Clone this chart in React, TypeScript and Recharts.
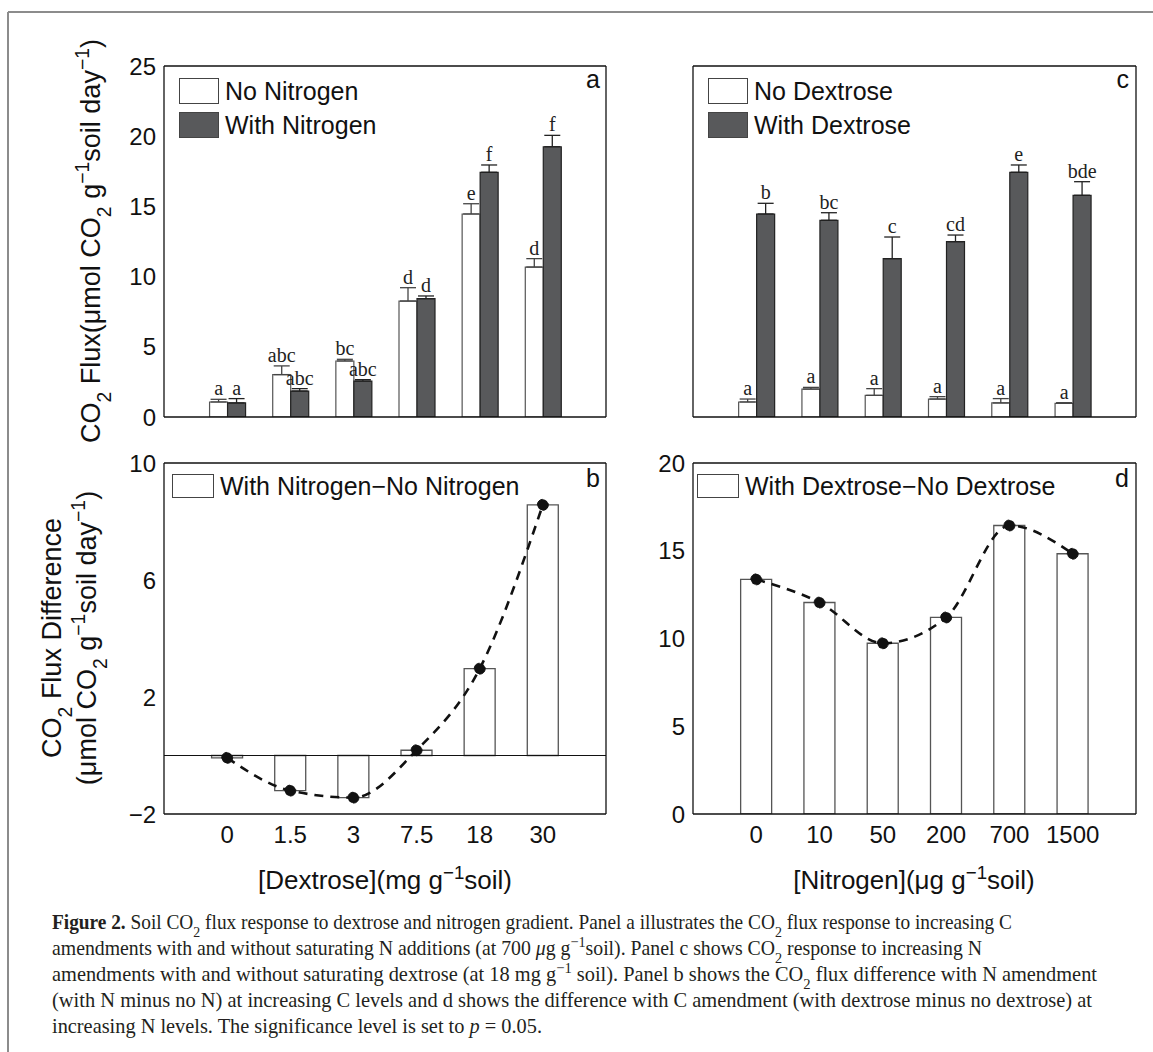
import React from "react";
import {
  ComposedChart,
  Bar,
  Line,
  XAxis,
  YAxis,
  ErrorBar,
  LabelList,
  Legend,
  ReferenceLine,
} from "recharts";

const W = 1153;
const H = 1052;
const SANS = "'Liberation Sans', Arial, Helvetica, sans-serif";
const SERIF = "'Liberation Serif', 'Times New Roman', serif";
const INK = "#111";
const DARK = "#58595b";

// #region Data
const dextroseLevels = ["0", "1.5", "3", "7.5", "18", "30"];
const nitrogenLevels = ["0", "10", "50", "200", "700", "1500"];
const slots = [0, 1, 2, 3, 4, 5];

// panel a: flux vs dextrose
const noNitrogenFlux = [1.07, 3.02, 3.99, 8.26, 14.46, 10.68];
const noNitrogenSE = [0.19, 0.62, 0.12, 0.95, 0.73, 0.6];
const noNitrogenGroup = ["a", "abc", "bc", "d", "e", "d"];
const withNitrogenFlux = [1.0, 1.85, 2.56, 8.43, 17.43, 19.25];
const withNitrogenSE = [0.31, 0.17, 0.1, 0.19, 0.52, 0.81];
const withNitrogenGroup = ["a", "abc", "abc", "d", "f", "f"];

// panel c: flux vs nitrogen
const noDextroseFlux = [1.07, 1.99, 1.54, 1.28, 1.0, 0.97];
const noDextroseSE = [0.21, 0.12, 0.48, 0.17, 0.31, 0.05];
const noDextroseGroup = ["a", "a", "a", "a", "a", "a"];
const withDextroseFlux = [14.46, 14.01, 11.28, 12.49, 17.43, 15.79];
const withDextroseSE = [0.76, 0.54, 1.54, 0.47, 0.52, 0.97];
const withDextroseGroup = ["b", "bc", "c", "cd", "e", "bde"];

// panels b, d: differences
const nitrogenEffect = [-0.08, -1.2, -1.44, 0.18, 2.97, 8.57];
const dextroseEffect = [13.37, 12.05, 9.73, 11.2, 16.44, 14.83];

const fluxTicks = [0, 5, 10, 15, 20, 25];
const nEffectTicks = [-2, 2, 6, 10];
const cEffectTicks = [0, 5, 10, 15, 20];
// #endregion

const pairRows = (
  levels: string[],
  noVals: number[],
  noErr: number[],
  noGrp: string[],
  withVals: number[],
  withErr: number[],
  withGrp: string[]
) =>
  levels.map((level, i) => ({
    i,
    level,
    no: noVals[i],
    noErr: [0, noErr[i]],
    noGrp: noGrp[i],
    with: withVals[i],
    withErr: [0, withErr[i]],
    withGrp: withGrp[i],
  }));

const diffRows = (levels: string[], vals: number[]) =>
  levels.map((level, i) => ({ i, level, diff: vals[i] }));

const panelA = pairRows(dextroseLevels, noNitrogenFlux, noNitrogenSE, noNitrogenGroup, withNitrogenFlux, withNitrogenSE, withNitrogenGroup);
const panelC = pairRows(nitrogenLevels, noDextroseFlux, noDextroseSE, noDextroseGroup, withDextroseFlux, withDextroseSE, withDextroseGroup);
const panelB = diffRows(dextroseLevels, nitrogenEffect);
const panelD = diffRows(nitrogenLevels, dextroseEffect);

type Frame = { left: number; right: number; top: number; bottom: number };
const frameA: Frame = { left: 164, right: 606, top: 66, bottom: 417 };
const frameC: Frame = { left: 693, right: 1136, top: 66, bottom: 417 };
const frameB: Frame = { left: 164, right: 606, top: 463, bottom: 814 };
const frameD: Frame = { left: 693, right: 1136, top: 463, bottom: 814 };

const marginOf = (f: Frame) => ({
  top: f.top,
  left: f.left - 60,
  right: W - f.right,
  bottom: H - f.bottom - 40,
});

const axisStroke = { stroke: INK, strokeWidth: 1.3 };
const tickFont = { fill: INK, fontSize: 24, fontFamily: SANS };
const withMinus = (v: number) => String(v).replace("-", "\u2212");

function frameAxes(
  levels: string[],
  yDomain: [number, number],
  yTicks: number[],
  showX: boolean,
  showY: boolean
) {
  const xCommon = {
    type: "number" as const,
    domain: [-1, 6],
    ticks: slots,
    allowDataOverflow: true,
    interval: 0 as const,
  };
  const yCommon = {
    type: "number" as const,
    domain: yDomain,
    ticks: yTicks,
    allowDataOverflow: true,
    interval: 0 as const,
  };
  return [
    <XAxis
      key="x"
      xAxisId="x"
      dataKey="i"
      {...xCommon}
      height={40}
      axisLine={axisStroke}
      tickLine={false}
      tickSize={0}
      tickMargin={12}
      tick={showX ? tickFont : false}
      tickFormatter={(v: number) => levels[v] ?? ""}
    />,
    <XAxis key="xt" xAxisId="xt" orientation="top" mirror {...xCommon} axisLine={axisStroke} tick={false} tickSize={6} tickLine={axisStroke} />,
    showX ? (
      <XAxis key="xb" xAxisId="xb" orientation="bottom" mirror {...xCommon} axisLine={false} tick={false} tickSize={6} tickLine={axisStroke} />
    ) : null,
    <YAxis
      key="y"
      yAxisId="y"
      {...yCommon}
      width={60}
      axisLine={axisStroke}
      tickLine={false}
      tickSize={0}
      tickMargin={8}
      tick={showY ? tickFont : false}
      tickFormatter={withMinus}
    />,
    <YAxis key="yl" yAxisId="yl" mirror {...yCommon} axisLine={false} tick={false} tickSize={6} tickLine={axisStroke} />,
    <YAxis key="yr" yAxisId="yr" orientation="right" mirror {...yCommon} axisLine={axisStroke} tick={false} tickSize={6} tickLine={axisStroke} />,
  ];
}

// significance letters sit just above each error bar
const groupLabel = (vals: number[], errs: number[]) => (p: any) => {
  const vb = p.viewBox || p;
  const { x, y, width, height } = vb;
  const i = p.index;
  if (i == null || x == null) return null;
  const pxPerUnit = vals[i] ? height / vals[i] : 0;
  const top = y - errs[i] * pxPerUnit;
  return (
    <text x={x + width / 2} y={top - 4} textAnchor="middle" fontFamily={SERIF} fontSize={20} fill="#222">
      {p.value}
    </text>
  );
};

const legendBox = (swatchW: number, swatchH: number, rowH: number) => (props: any) => {
  const items = (props.payload || []).filter((e: any) => e.type !== "none");
  return (
    <div style={{ fontFamily: SANS, fontSize: 25, color: INK }}>
      {items.map((e: any) => (
        <div key={e.value} style={{ display: "flex", alignItems: "center", height: rowH, whiteSpace: "nowrap" }}>
          <span
            style={{
              display: "inline-block",
              width: swatchW,
              height: swatchH,
              background: e.color,
              border: "1.5px solid #444",
              boxSizing: "border-box",
              marginRight: 6,
            }}
          />
          <span>{e.value}</span>
        </div>
      ))}
    </div>
  );
};

function FluxPanel({
  rows,
  frame,
  levels,
  names,
  vals,
  legendAt,
  showY,
}: {
  rows: any[];
  frame: Frame;
  levels: string[];
  names: [string, string];
  vals: [number[], number[], number[], number[]];
  legendAt: { left: number; top: number };
  showY: boolean;
}) {
  return (
    <div style={{ position: "absolute", left: 0, top: 0 }}>
      <ComposedChart width={W} height={H} data={rows} margin={marginOf(frame)} barGap={0}>
        {frameAxes(levels, [0, 25], fluxTicks, false, showY)}
        <Legend
          layout="vertical"
          align="center"
          verticalAlign="middle"
          wrapperStyle={{ left: legendAt.left, top: legendAt.top, width: 420 }}
          content={legendBox(40, 26, 34)}
        />
        <Bar xAxisId="x" yAxisId="y" dataKey="no" name={names[0]} fill="#ffffff" stroke="#555" strokeWidth={1.2} barSize={18} isAnimationActive={false}>
          <ErrorBar dataKey="noErr" width={8} stroke="#444" strokeWidth={1.3} direction="y" />
          <LabelList dataKey="noGrp" content={groupLabel(vals[0], vals[1])} />
        </Bar>
        <Bar xAxisId="x" yAxisId="y" dataKey="with" name={names[1]} fill={DARK} stroke="#222" strokeWidth={1.2} barSize={18} isAnimationActive={false}>
          <ErrorBar dataKey="withErr" width={8} stroke="#222" strokeWidth={1.3} direction="y" />
          <LabelList dataKey="withGrp" content={groupLabel(vals[2], vals[3])} />
        </Bar>
      </ComposedChart>
    </div>
  );
}

function DiffPanel({
  rows,
  frame,
  levels,
  name,
  yDomain,
  yTicks,
  zeroLine,
  legendAt,
}: {
  rows: any[];
  frame: Frame;
  levels: string[];
  name: string;
  yDomain: [number, number];
  yTicks: number[];
  zeroLine: boolean;
  legendAt: { left: number; top: number };
}) {
  return (
    <div style={{ position: "absolute", left: 0, top: 0 }}>
      <ComposedChart width={W} height={H} data={rows} margin={marginOf(frame)}>
        {frameAxes(levels, yDomain, yTicks, true, true)}
        <Legend
          layout="vertical"
          align="center"
          verticalAlign="middle"
          wrapperStyle={{ left: legendAt.left, top: legendAt.top, width: 420 }}
          content={legendBox(42, 24, 32)}
        />
        {zeroLine ? <ReferenceLine xAxisId="x" yAxisId="y" y={0} stroke={INK} strokeWidth={1.2} /> : null}
        <Bar xAxisId="x" yAxisId="y" dataKey="diff" name={name} fill="#ffffff" stroke="#555" strokeWidth={1.3} barSize={31} isAnimationActive={false} />
        <Line
          xAxisId="x"
          yAxisId="y"
          dataKey="diff"
          type="monotone"
          stroke={INK}
          strokeWidth={2.6}
          strokeDasharray="9 7"
          dot={{ r: 5.5, fill: INK, stroke: INK, strokeWidth: 1 }}
          legendType="none"
          isAnimationActive={false}
        />
      </ComposedChart>
    </div>
  );
}

const Sub = ({ children }: { children: React.ReactNode }) => (
  <tspan baselineShift="sub" fontSize="0.72em">
    {children}
  </tspan>
);
const Sup = ({ children }: { children: React.ReactNode }) => (
  <tspan baselineShift="super" fontSize="0.72em">
    {children}
  </tspan>
);

function Annotations() {
  const t = { fontFamily: SANS, fill: INK };
  const cap = { fontFamily: SERIF, fontSize: 21, fill: "#231f20", lengthAdjust: "spacingAndGlyphs" as const };
  return (
    <svg width={W} height={H} style={{ position: "absolute", left: 0, top: 0 }}>
      {/* figure frame */}
      <line x1={8} y1={12} x2={W} y2={12} stroke="#8c8c8c" strokeWidth={2} />
      <line x1={8} y1={12} x2={8} y2={H} stroke="#8c8c8c" strokeWidth={2} />

      {/* y titles */}
      <text {...t} fontSize={27} transform="rotate(-90)" x={-241} y={100} textAnchor="middle">
        CO<Sub>2</Sub> Flux(μmol CO<Sub>2</Sub> g<Sup>−1</Sup>soil day<Sup>−1</Sup>)
      </text>
      <text {...t} fontSize={27} transform="rotate(-90)" x={-638} y={61} textAnchor="middle">
        CO<Sub>2</Sub> Flux Difference
      </text>
      <text {...t} fontSize={27} transform="rotate(-90)" x={-638} y={96} textAnchor="middle">
        (μmol CO<Sub>2</Sub> g<Sup>−1</Sup>soil day<Sup>−1</Sup>)
      </text>

      {/* x titles */}
      <text {...t} fontSize={26} x={385} y={889} textAnchor="middle">
        [Dextrose](mg g<Sup>−1</Sup>soil)
      </text>
      <text {...t} fontSize={26} x={914} y={889} textAnchor="middle">
        [Nitrogen](μg g<Sup>−1</Sup>soil)
      </text>

      {/* panel tags */}
      <text {...t} fontSize={25} x={600} y={88} textAnchor="end">a</text>
      <text {...t} fontSize={25} x={1129} y={88} textAnchor="end">c</text>
      <text {...t} fontSize={25} x={600} y={487} textAnchor="end">b</text>
      <text {...t} fontSize={25} x={1129} y={487} textAnchor="end">d</text>

      {/* caption */}
      <text {...cap} x={52} y={929} textLength={960}>
        <tspan fontWeight="bold">Figure 2.</tspan> Soil CO<Sub>2</Sub> flux response to dextrose and nitrogen gradient. Panel a illustrates the CO<Sub>2</Sub> flux response to increasing C
      </text>
      <text {...cap} x={52} y={955} textLength={930}>
        amendments with and without saturating N additions (at 700 <tspan fontStyle="italic">μ</tspan>g g<Sup>−1</Sup>soil). Panel c shows CO<Sub>2</Sub> response to increasing N
      </text>
      <text {...cap} x={52} y={981} textLength={1045}>
        amendments with and without saturating dextrose (at 18 mg g<Sup>−1</Sup> soil). Panel b shows the CO<Sub>2</Sub> flux difference with N amendment
      </text>
      <text {...cap} x={52} y={1007} textLength={1040}>
        (with N minus no N) at increasing C levels and d shows the difference with C amendment (with dextrose minus no dextrose) at
      </text>
      <text {...cap} x={52} y={1033} textLength={490}>
        increasing N levels. The significance level is set to <tspan fontStyle="italic">p</tspan> = 0.05.
      </text>
    </svg>
  );
}

export default function App() {
  return (
    <div style={{ position: "absolute", left: 0, top: 0, width: W, height: H, background: "#fff", overflow: "hidden" }}>
      <Annotations />
      <FluxPanel
        rows={panelA}
        frame={frameA}
        levels={dextroseLevels}
        names={["No Nitrogen", "With Nitrogen"]}
        vals={[noNitrogenFlux, noNitrogenSE, withNitrogenFlux, withNitrogenSE]}
        legendAt={{ left: 179, top: 74 }}
        showY
      />
      <FluxPanel
        rows={panelC}
        frame={frameC}
        levels={nitrogenLevels}
        names={["No Dextrose", "With Dextrose"]}
        vals={[noDextroseFlux, noDextroseSE, withDextroseFlux, withDextroseSE]}
        legendAt={{ left: 708, top: 74 }}
        showY={false}
      />
      <DiffPanel
        rows={panelB}
        frame={frameB}
        levels={dextroseLevels}
        name="With Nitrogen−No Nitrogen"
        yDomain={[-2, 10]}
        yTicks={nEffectTicks}
        zeroLine
        legendAt={{ left: 172, top: 470 }}
      />
      <DiffPanel
        rows={panelD}
        frame={frameD}
        levels={nitrogenLevels}
        name="With Dextrose−No Dextrose"
        yDomain={[0, 20]}
        yTicks={cEffectTicks}
        zeroLine={false}
        legendAt={{ left: 697, top: 470 }}
      />
    </div>
  );
}
